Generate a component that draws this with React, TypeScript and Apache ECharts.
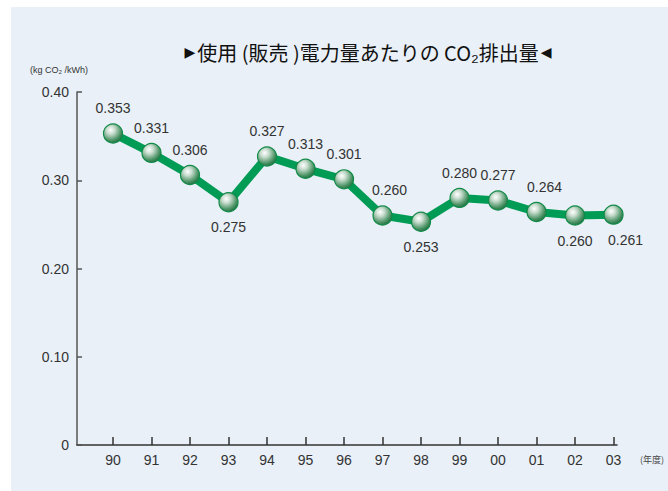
import React, { useEffect, useRef } from "react";
import * as echarts from "echarts";

const years = ["90", "91", "92", "93", "94", "95", "96", "97", "98", "99", "00", "01", "02", "03"];
const emissions = [0.353, 0.331, 0.306, 0.275, 0.327, 0.313, 0.301, 0.26, 0.253, 0.28, 0.277, 0.264, 0.26, 0.261];
const labelPlacement = ["top", "top", "top", "bottom", "top", "top", "top", "top", "bottom", "top", "top", "top", "bottom", "bottom"];
const labelShiftX = [0, 0, 0, 0, 0, 0, 0, 7, 0, 0, 0, 8, 0, 12];
const yTicks = [0, 0.1, 0.2, 0.3, 0.4];

export default function App() {
  const ref = useRef<HTMLDivElement>(null);
  useEffect(() => {
    if (!ref.current) return;
    const chart = echarts.init(ref.current, null, { renderer: "svg" });
    const font = "Liberation Sans, Arial, sans-serif";
    const sphere = new echarts.graphic.RadialGradient(0.38, 0.32, 0.72, [
      { offset: 0, color: "#ffffff" },
      { offset: 0.3, color: "#c9ddcf" },
      { offset: 0.75, color: "#4d9466" },
      { offset: 1, color: "#1f6e40" },
    ]);
    chart.setOption({
      animation: false,
      backgroundColor: "#ffffff",
      graphic: [
        {
          type: "rect",
          shape: { x: 11, y: 7, width: 700, height: 500 },
          style: { fill: "#e9f0f7" },
          z: -10,
          silent: true,
        },
        {
          type: "text",
          x: 368,
          y: 52,
          style: {
            text: "{t|▶}使用 (販売 )電力量あたりの CO₂排出量{t|◀}",
            fill: "#111",
            font: '20px "Noto Sans CJK JP", sans-serif',
            align: "center",
            verticalAlign: "middle",
            rich: {
              t: { fontSize: 14, fontFamily: "DejaVu Sans", fill: "#111", padding: [0, 2, 0, 2] },
            },
          },
        },
        {
          type: "text",
          x: 30,
          y: 70,
          style: {
            text: "(kg CO₂ /kWh)",
            fill: "#333",
            font: "9px " + font,
            verticalAlign: "middle",
          },
        },
        {
          type: "text",
          x: 640,
          y: 459,
          style: {
            text: "(年度)",
            fill: "#444",
            font: '9px "Noto Sans CJK JP", sans-serif',
            verticalAlign: "middle",
          },
        },
      ],
      grid: { left: 77, right: 51, top: 92, bottom: 46 },
      xAxis: {
        type: "value",
        min: -0.935,
        max: 13.09,
        splitLine: { show: false },
        axisLine: { show: true, onZero: false, lineStyle: { color: "#333", width: 1.5 } },
        axisTick: {
          show: true,
          inside: true,
          length: 8,
          customValues: years.map((_, i) => i),
          lineStyle: { color: "#333", width: 1.5 },
        },
        axisLabel: {
          customValues: years.map((_, i) => i),
          formatter: (v: number) => years[Math.round(v)] ?? "",
          color: "#333",
          fontSize: 14,
          fontFamily: font,
          margin: 8,
        },
      },
      yAxis: {
        type: "value",
        min: 0,
        max: 0.4,
        interval: 0.1,
        splitLine: { show: false },
        axisLine: { show: true, onZero: false, lineStyle: { color: "#555", width: 1.5 } },
        axisTick: { show: true, inside: true, length: 5, lineStyle: { color: "#555", width: 1.5 } },
        axisLabel: {
          formatter: (v: number) => (v === 0 ? "0" : v.toFixed(2)),
          color: "#333",
          fontSize: 14,
          fontFamily: font,
          margin: 8,
          customValues: yTicks,
        },
      },
      series: [
        {
          type: "line",
          data: emissions.map((v, i) => ({
            value: [i, v],
            label: {
              position: labelPlacement[i],
              offset: [labelShiftX[i], 0],
            },
          })),
          lineStyle: { color: "#009b55", width: 8 },
          symbol: "circle",
          symbolSize: 19,
          itemStyle: { color: sphere, borderColor: "#128a48", borderWidth: 1.2 },
          label: {
            show: true,
            distance: 8,
            formatter: (p: any) => p.value[1].toFixed(3),
            color: "#333",
            fontSize: 14,
            fontFamily: font,
          },
          z: 3,
        },
      ],
    });
    return () => chart.dispose();
  }, []);
  return <div ref={ref} style={{ width: 668, height: 491, position: "absolute", left: 0, top: 0 }} />;
}
